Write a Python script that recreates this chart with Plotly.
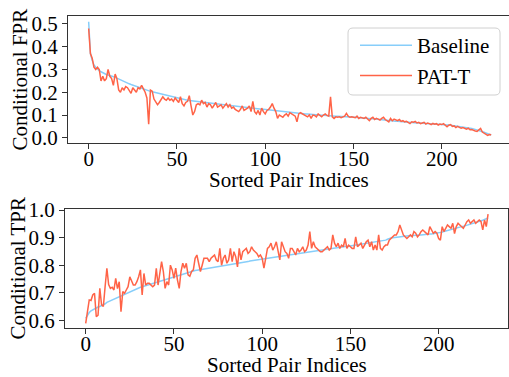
import plotly.graph_objects as go

# ---------------- data ----------------
idx = list(range(229))

fpr_baseline = [
    0.51, 0.37, 0.34, 0.32, 0.31, 0.30, 0.295, 0.29, 0.285, 0.28,
    0.278, 0.276, 0.274, 0.272, 0.27, 0.266, 0.262, 0.258, 0.254, 0.25,
    0.246, 0.243, 0.24, 0.237, 0.234, 0.231, 0.228, 0.225, 0.222, 0.219,
    0.216, 0.213, 0.21, 0.208, 0.206, 0.204, 0.202, 0.2, 0.198, 0.196,
    0.194, 0.192, 0.19, 0.188, 0.186, 0.184, 0.182, 0.18, 0.178, 0.176,
    0.174, 0.172, 0.17, 0.168, 0.167, 0.166, 0.165, 0.164, 0.163, 0.162,
    0.16, 0.159, 0.158, 0.157, 0.156, 0.155, 0.154, 0.153, 0.152, 0.151,
    0.15, 0.149, 0.148, 0.147, 0.146, 0.145, 0.144, 0.143, 0.142, 0.141,
    0.14, 0.139, 0.138, 0.137, 0.136, 0.135, 0.134, 0.133, 0.132, 0.131,
    0.13, 0.129, 0.128, 0.128, 0.127, 0.127, 0.126, 0.126, 0.125, 0.125,
    0.124, 0.123, 0.122, 0.121, 0.12, 0.119, 0.118, 0.117, 0.116, 0.115,
    0.114, 0.113, 0.112, 0.111, 0.11, 0.109, 0.108, 0.107, 0.107, 0.106,
    0.106, 0.105, 0.105, 0.104, 0.104, 0.103, 0.103, 0.102, 0.102, 0.101,
    0.1, 0.1, 0.099, 0.099, 0.098, 0.098, 0.097, 0.097, 0.096, 0.096,
    0.095, 0.095, 0.094, 0.094, 0.093, 0.093, 0.092, 0.092, 0.091, 0.091,
    0.09, 0.09, 0.089, 0.088, 0.088, 0.087, 0.086, 0.086, 0.085, 0.084,
    0.083, 0.083, 0.082, 0.081, 0.08, 0.08, 0.079, 0.078, 0.077, 0.077,
    0.076, 0.075, 0.075, 0.074, 0.073, 0.073, 0.072, 0.071, 0.071, 0.07,
    0.069, 0.069, 0.068, 0.067, 0.067, 0.066, 0.065, 0.065, 0.064, 0.063,
    0.063, 0.062, 0.062, 0.061, 0.061, 0.06, 0.06, 0.059, 0.059, 0.058,
    0.058, 0.057, 0.057, 0.056, 0.056, 0.055, 0.054, 0.054, 0.053, 0.052,
    0.051, 0.05, 0.049, 0.048, 0.047, 0.045, 0.043, 0.041, 0.039, 0.037,
    0.035, 0.032, 0.03, 0.027, 0.024, 0.021, 0.018, 0.015, 0.012,
]

fpr_patt = [
    0.48, 0.37, 0.35, 0.31, 0.30, 0.31, 0.30, 0.25, 0.27, 0.25,
    0.26, 0.30, 0.27, 0.26, 0.23, 0.28, 0.26, 0.21, 0.20, 0.22,
    0.21, 0.225, 0.22, 0.21, 0.195, 0.22, 0.21, 0.20, 0.22, 0.215,
    0.23, 0.215, 0.20, 0.175, 0.06, 0.21, 0.205, 0.17, 0.16, 0.145,
    0.155, 0.165, 0.18, 0.17, 0.165, 0.175, 0.165, 0.17, 0.16, 0.175,
    0.165, 0.155, 0.18, 0.15, 0.14, 0.155, 0.16, 0.185, 0.14, 0.10,
    0.115, 0.145, 0.15, 0.145, 0.165, 0.15, 0.155, 0.135, 0.15, 0.145,
    0.13, 0.14, 0.155, 0.135, 0.14, 0.145, 0.13, 0.14, 0.15, 0.135,
    0.145, 0.13, 0.135, 0.125, 0.12, 0.115, 0.125, 0.14, 0.12, 0.125,
    0.13, 0.14, 0.115, 0.16, 0.115, 0.105, 0.12, 0.10, 0.13, 0.115,
    0.105, 0.12, 0.125, 0.135, 0.15, 0.13, 0.115, 0.085, 0.10, 0.095,
    0.09, 0.10, 0.105, 0.095, 0.11, 0.105, 0.10, 0.095, 0.07, 0.105,
    0.11, 0.105, 0.10, 0.098, 0.092, 0.10, 0.085, 0.10, 0.098, 0.092,
    0.105, 0.098, 0.092, 0.10, 0.105, 0.098, 0.095, 0.18, 0.092, 0.085,
    0.092, 0.09, 0.092, 0.088, 0.092, 0.095, 0.107, 0.095, 0.09, 0.092,
    0.09, 0.088, 0.095, 0.085, 0.09, 0.088, 0.085, 0.09, 0.082, 0.075,
    0.085, 0.09, 0.08, 0.085, 0.082, 0.078, 0.085, 0.09, 0.08, 0.075,
    0.07, 0.085, 0.075, 0.082, 0.078, 0.075, 0.08, 0.072, 0.075, 0.07,
    0.072, 0.068, 0.062, 0.07, 0.068, 0.072, 0.065, 0.068, 0.062, 0.065,
    0.068, 0.06, 0.065, 0.062, 0.058, 0.063, 0.06, 0.062, 0.056, 0.06,
    0.058, 0.062, 0.055, 0.048, 0.055, 0.058, 0.05, 0.052, 0.045, 0.05,
    0.046, 0.042, 0.045, 0.04, 0.038, 0.042, 0.035, 0.036, 0.032, 0.03,
    0.028, 0.033, 0.041, 0.025, 0.02, 0.015, 0.01, 0.014, 0.013,
]

tpr_baseline = [
    0.607, 0.62, 0.628, 0.634, 0.638, 0.642, 0.645, 0.648, 0.65, 0.653,
    0.656, 0.66, 0.665, 0.668, 0.672, 0.675, 0.677, 0.679, 0.681, 0.684,
    0.688, 0.691, 0.694, 0.697, 0.7, 0.703, 0.706, 0.709, 0.712, 0.715,
    0.718, 0.72, 0.722, 0.724, 0.727, 0.729, 0.731, 0.733, 0.735, 0.737,
    0.739, 0.741, 0.743, 0.745, 0.747, 0.749, 0.751, 0.753, 0.755, 0.757,
    0.758, 0.76, 0.762, 0.764, 0.766, 0.768, 0.77, 0.772, 0.774, 0.776,
    0.778, 0.779, 0.781, 0.782, 0.783, 0.785, 0.786, 0.787, 0.788, 0.789,
    0.79, 0.791, 0.792, 0.793, 0.794, 0.795, 0.796, 0.797, 0.798, 0.799,
    0.8, 0.801, 0.802, 0.803, 0.804, 0.805, 0.806, 0.807, 0.808, 0.809,
    0.81, 0.812, 0.813, 0.815, 0.816, 0.818, 0.819, 0.82, 0.821, 0.822,
    0.823, 0.824, 0.825, 0.826, 0.827, 0.828, 0.829, 0.83, 0.831, 0.832,
    0.833, 0.834, 0.835, 0.836, 0.837, 0.838, 0.839, 0.84, 0.841, 0.842,
    0.843, 0.844, 0.845, 0.846, 0.847, 0.848, 0.849, 0.85, 0.851, 0.852,
    0.853, 0.854, 0.855, 0.856, 0.857, 0.858, 0.859, 0.86, 0.861, 0.862,
    0.863, 0.864, 0.864, 0.865, 0.866, 0.866, 0.867, 0.868, 0.868, 0.869,
    0.87, 0.871, 0.872, 0.873, 0.874, 0.875, 0.876, 0.877, 0.878, 0.879,
    0.88, 0.881, 0.882, 0.883, 0.884, 0.885, 0.886, 0.887, 0.888, 0.889,
    0.891, 0.894, 0.897, 0.899, 0.9, 0.901, 0.902, 0.903, 0.904, 0.905,
    0.905, 0.906, 0.906, 0.907, 0.907, 0.908, 0.908, 0.909, 0.909, 0.91,
    0.91, 0.911, 0.911, 0.912, 0.912, 0.913, 0.913, 0.914, 0.914, 0.915,
    0.916, 0.918, 0.92, 0.922, 0.924, 0.926, 0.928, 0.93, 0.932, 0.934,
    0.935, 0.937, 0.938, 0.94, 0.941, 0.943, 0.944, 0.946, 0.947, 0.949,
    0.951, 0.953, 0.955, 0.957, 0.96, 0.963, 0.966, 0.969, 0.972,
]

tpr_patt = [
    0.589, 0.63, 0.674, 0.672, 0.692, 0.698, 0.613, 0.619, 0.716, 0.656,
    0.65, 0.722, 0.789, 0.73, 0.716, 0.72, 0.71, 0.752, 0.715, 0.74,
    0.631, 0.704, 0.698, 0.71, 0.722, 0.758, 0.74, 0.728, 0.728, 0.74,
    0.758, 0.783, 0.692, 0.77, 0.728, 0.734, 0.734, 0.728, 0.722, 0.728,
    0.789, 0.728, 0.777, 0.813, 0.777, 0.716, 0.74, 0.728, 0.80, 0.783,
    0.752, 0.789, 0.746, 0.716, 0.777, 0.807, 0.789, 0.807, 0.765, 0.76,
    0.777, 0.783, 0.825, 0.837, 0.807, 0.777, 0.80, 0.825, 0.825, 0.825,
    0.813, 0.825, 0.831, 0.837, 0.819, 0.813, 0.861, 0.80, 0.825, 0.837,
    0.807, 0.819, 0.861, 0.813, 0.849, 0.831, 0.794, 0.861, 0.819, 0.849,
    0.855, 0.861, 0.843, 0.849, 0.867, 0.855, 0.849, 0.843, 0.831, 0.837,
    0.825, 0.789, 0.825, 0.861, 0.867, 0.88, 0.855, 0.867, 0.885, 0.849,
    0.819, 0.885, 0.867, 0.849, 0.843, 0.825, 0.861, 0.861, 0.849, 0.837,
    0.861, 0.849, 0.855, 0.867, 0.849, 0.855, 0.873, 0.922, 0.861, 0.885,
    0.867, 0.861, 0.855, 0.849, 0.849, 0.855, 0.861, 0.867, 0.855, 0.861,
    0.91, 0.88, 0.867, 0.88, 0.861, 0.873, 0.867, 0.897, 0.861, 0.873,
    0.867, 0.861, 0.861, 0.903, 0.867, 0.873, 0.88, 0.861, 0.873, 0.885,
    0.891, 0.867, 0.885, 0.855, 0.873, 0.855, 0.91, 0.861, 0.855, 0.867,
    0.873, 0.873, 0.891, 0.897, 0.903, 0.91, 0.91, 0.922, 0.946, 0.928,
    0.91, 0.903, 0.897, 0.903, 0.91, 0.903, 0.922, 0.916, 0.903, 0.91,
    0.922, 0.928, 0.922, 0.916, 0.91, 0.94, 0.928, 0.916, 0.922, 0.916,
    0.897, 0.891, 0.94, 0.922, 0.934, 0.946, 0.94, 0.934, 0.952, 0.915,
    0.94, 0.952, 0.946, 0.94, 0.934, 0.946, 0.958, 0.964, 0.952, 0.958,
    0.964, 0.952, 0.958, 0.964, 0.958, 0.928, 0.964, 0.94, 0.985,
]

fpr_ticks = [0.0, 0.1, 0.2, 0.3, 0.4, 0.5]
tpr_ticks = [0.6, 0.7, 0.8, 0.9, 1.0]
x_ticks = [0, 50, 100, 150, 200]

# ---------------- styling ----------------
W, H = 509, 377
FONT = "Liberation Serif"
FS = 21
BLUE = "#87CEFA"
RED = "#FF6347"
AX = "#333333"


def fx(px):
    return px / W


def fy(py):
    return 1 - py / H


fig = go.Figure()
fig.add_trace(go.Scatter(x=idx, y=fpr_baseline, mode="lines", name="Baseline",
                         line=dict(color=BLUE, width=1.5), xaxis="x", yaxis="y"))
fig.add_trace(go.Scatter(x=idx, y=fpr_patt, mode="lines", name="PAT-T",
                         line=dict(color=RED, width=1.5), xaxis="x", yaxis="y"))
fig.add_trace(go.Scatter(x=idx, y=tpr_baseline, mode="lines", name="Baseline",
                         line=dict(color=BLUE, width=1.5), xaxis="x2", yaxis="y2",
                         showlegend=False))
fig.add_trace(go.Scatter(x=idx, y=tpr_patt, mode="lines", name="PAT-T",
                         line=dict(color=RED, width=1.5), xaxis="x2", yaxis="y2",
                         showlegend=False))

axis_common = dict(showgrid=False, zeroline=False, showline=True, linecolor=AX,
                   linewidth=1.3, ticks="outside", ticklen=5, tickwidth=1.2,
                   tickcolor=AX, automargin=False,
                   tickfont=dict(family=FONT, size=FS, color="black"))

fig.update_layout(
    width=W, height=H,
    margin=dict(l=0, r=0, t=0, b=0),
    paper_bgcolor="white", plot_bgcolor="white",
    font=dict(family=FONT, size=FS, color="black"),
    xaxis=dict(domain=[fx(68), 1.0], anchor="y", range=[-11.7, 238.1],
               tickvals=x_ticks, mirror=True, ticklabelstandoff=-8, **axis_common),
    yaxis=dict(domain=[fy(143), fy(16)], anchor="x", range=[-0.023, 0.535],
               tickvals=fpr_ticks, tickformat=".1f", mirror=False, **axis_common),
    xaxis2=dict(domain=[fx(65), fx(508)], anchor="y2", range=[-11.73, 239.3],
                tickvals=x_ticks, mirror=True, ticklabelstandoff=-8, **axis_common),
    yaxis2=dict(domain=[fy(328), fy(209)], anchor="x2", range=[0.572, 1.004],
                tickvals=tpr_ticks, tickformat=".1f", mirror=True, **axis_common),
    showlegend=True,
    legend=dict(x=fx(355), y=fy(25), xanchor="left", yanchor="top",
                bgcolor="rgba(0,0,0,0)", borderwidth=0,
                font=dict(family=FONT, size=FS, color="black"),
                itemwidth=52),
)

# rounded legend frame
x0, x1, y0, y1, r = 348, 500, 28, 95, 5
pts = [
    f"M{fx(x0 + r)},{fy(y0)}", f"L{fx(x1 - r)},{fy(y0)}",
    f"Q{fx(x1)},{fy(y0)} {fx(x1)},{fy(y0 + r)}", f"L{fx(x1)},{fy(y1 - r)}",
    f"Q{fx(x1)},{fy(y1)} {fx(x1 - r)},{fy(y1)}", f"L{fx(x0 + r)},{fy(y1)}",
    f"Q{fx(x0)},{fy(y1)} {fx(x0)},{fy(y1 - r)}", f"L{fx(x0)},{fy(y0 + r)}",
    f"Q{fx(x0)},{fy(y0)} {fx(x0 + r)},{fy(y0)}", "Z",
]
fig.add_shape(type="path", xref="paper", yref="paper", path=" ".join(pts),
              line=dict(color="#d0d0d0", width=1), fillcolor="rgba(255,255,255,0.8)",
              layer="above")

annos = [
    dict(text="Sorted Pair Indices", x=fx(289), y=fy(180)),
    dict(text="Sorted Pair Indices", x=fx(287), y=fy(365)),
    dict(text="Conditional FPR", x=fx(19), y=fy(79.5), textangle=-90),
    dict(text="Conditional TPR", x=fx(17), y=fy(268.5), textangle=-90),
]
for a in annos:
    fig.add_annotation(xref="paper", yref="paper", showarrow=False,
                       xanchor="center", yanchor="middle",
                       font=dict(family=FONT, size=FS, color="black"), **a)

fig.write_html("out.html", config={"displayModeBar": False},
               post_script="document.body.style.margin='0px';")
